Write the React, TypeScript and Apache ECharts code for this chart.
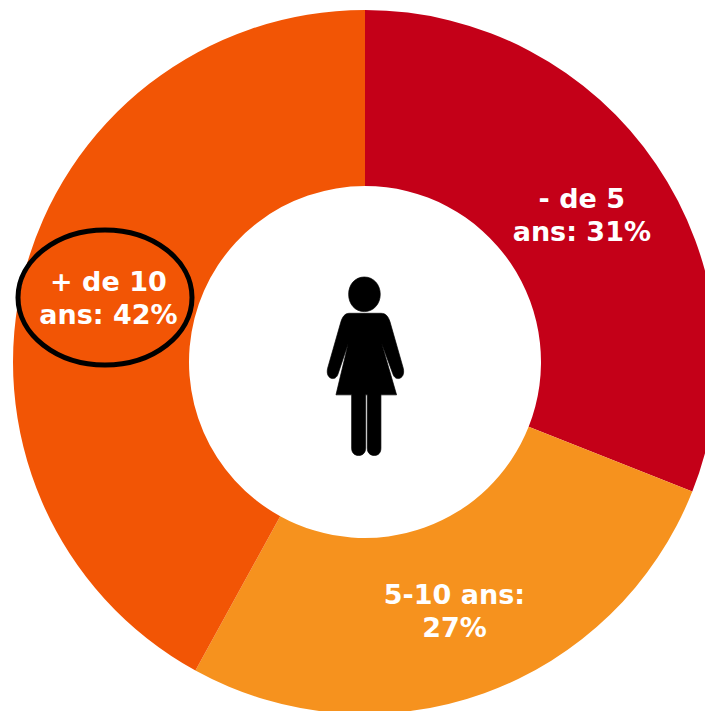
import React, { useEffect, useRef } from "react";
import * as echarts from "echarts";

const categories = ["- de 5 ans", "5-10 ans", "+ de 10 ans"];
const labels = ["- de 5\nans: 31%", "5-10 ans:\n27%", "+ de 10\nans: 42%"];
const values = [31, 27, 42];
const colors = ["#C40018", "#F6921E", "#F25505"];

const figurePath =
  "M163 51C135 51 116 74 116 103C116 132 135 155 163 155C191 155 211 132 211 103C211 74 191 51 163 51Z" +
  "M118 160C105 160 98 170 93 185L53 325C49 342 55 354 67 356C76 357 82 350 85 340L115 250L78 405L125 405L125 565C125 578 133 587 146 587C159 587 167 578 167 565L167 405L172 405L172 565C172 578 180 587 193 587C206 587 213 578 213 565L213 405L260 405L215 250L248 340C251 350 257 357 266 356C278 354 284 342 280 325L240 185C235 170 228 160 213 160Z";

echarts.graphic.registerShape("womanIcon", echarts.graphic.extendPath(figurePath as any, {}) as any);

export default function App() {
  const ref = useRef<HTMLDivElement>(null);
  useEffect(() => {
    document.body.style.margin = "0";
    const chart = echarts.init(ref.current!, undefined, { renderer: "svg" });
    const shifts = [
      [-4, 3],
      [-1, -2],
      [2, 2],
    ];
    chart.setOption({
      animation: false,
      backgroundColor: "#ffffff",
      series: [
        {
          type: "pie",
          center: [365, 362],
          radius: [176, 352],
          startAngle: 90,
          clockwise: true,
          silent: true,
          avoidLabelOverlap: false,
          itemStyle: { borderWidth: 0 },
          label: {
            show: true,
            position: "inside",
            formatter: (p: any) => labels[p.dataIndex],
            color: "#ffffff",
            fontFamily: "DejaVu Sans",
            fontWeight: "bold",
            fontSize: 27,
            lineHeight: 33,
            align: "center",
          },
          labelLayout: (p: any) => ({ dx: shifts[p.dataIndex][0], dy: shifts[p.dataIndex][1] }),
          labelLine: { show: false },
          data: values.map((v, i) => ({
            name: categories[i],
            value: v,
            itemStyle: { color: colors[i] },
          })),
        },
      ],
      graphic: [
        {
          type: "womanIcon",
          x: 310,
          y: 260,
          z: 10,
          scaleX: 1 / 3,
          scaleY: 1 / 3,
          silent: true,
          style: { fill: "#000000", stroke: "#000000", lineWidth: 2 },
        },
        {
          type: "ellipse",
          z: 10,
          silent: true,
          shape: { cx: 105, cy: 297.5, rx: 87, ry: 67.5 },
          style: { fill: "none", stroke: "#000000", lineWidth: 5 },
        },
      ],
    });
    return () => chart.dispose();
  }, []);
  return <div ref={ref} style={{ width: 705, height: 711, overflow: "hidden" }} />;
}
